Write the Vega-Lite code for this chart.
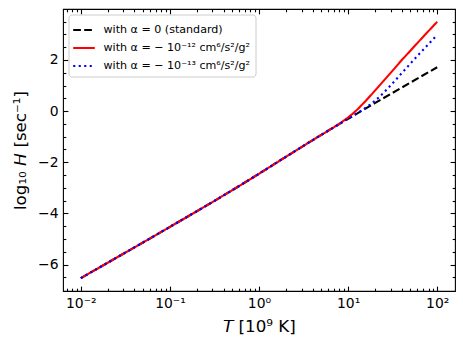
{
  "$schema": "https://vega.github.io/schema/vega-lite/v6.json",
  "width": 392,
  "height": 282,
  "autosize": {"type": "none"},
  "padding": {"left": 63, "top": 9, "right": 8, "bottom": 57},
  "background": "white",
  "config": {
    "font": "DejaVu Sans",
    "view": {"stroke": "black", "strokeWidth": 1.1},
    "axis": {
      "grid": false,
      "domain": false,
      "tickColor": "black",
      "tickWidth": 1.1,
      "labelColor": "black",
      "labelFont": "DejaVu Sans",
      "labelFontSize": 13.9,
      "titleFont": "DejaVu Sans",
      "titleFontSize": 16.7,
      "titleFontWeight": "normal",
      "titleColor": "black",
      "labelOverlap": false,
      "labelFlush": false
    }
  },
  "data": {
    "values": [
      {"T": 0.01, "H": -6.53, "s": "a0"},
      {"T": 0.017783, "H": -6.03, "s": "a0"},
      {"T": 0.031623, "H": -5.53, "s": "a0"},
      {"T": 0.056234, "H": -5.03, "s": "a0"},
      {"T": 0.1, "H": -4.525, "s": "a0"},
      {"T": 0.177828, "H": -4.02, "s": "a0"},
      {"T": 0.316228, "H": -3.51, "s": "a0"},
      {"T": 0.562341, "H": -2.985, "s": "a0"},
      {"T": 1, "H": -2.45, "s": "a0"},
      {"T": 1.778279, "H": -1.9, "s": "a0"},
      {"T": 3.162278, "H": -1.355, "s": "a0"},
      {"T": 3.981072, "H": -1.14, "s": "a0"},
      {"T": 5.011872, "H": -0.928, "s": "a0"},
      {"T": 6.309573, "H": -0.717, "s": "a0"},
      {"T": 7.943282, "H": -0.508, "s": "a0"},
      {"T": 10, "H": -0.301, "s": "a0"},
      {"T": 12.58925, "H": -0.096, "s": "a0"},
      {"T": 15.84893, "H": 0.108, "s": "a0"},
      {"T": 19.95262, "H": 0.311, "s": "a0"},
      {"T": 25.11886, "H": 0.513, "s": "a0"},
      {"T": 31.62278, "H": 0.714, "s": "a0"},
      {"T": 39.81072, "H": 0.915, "s": "a0"},
      {"T": 50.11872, "H": 1.115, "s": "a0"},
      {"T": 63.09573, "H": 1.315, "s": "a0"},
      {"T": 79.43282, "H": 1.515, "s": "a0"},
      {"T": 100, "H": 1.715, "s": "a0"},

      {"T": 0.01, "H": -6.53, "s": "a12"},
      {"T": 0.017783, "H": -6.03, "s": "a12"},
      {"T": 0.031623, "H": -5.53, "s": "a12"},
      {"T": 0.056234, "H": -5.03, "s": "a12"},
      {"T": 0.1, "H": -4.525, "s": "a12"},
      {"T": 0.177828, "H": -4.02, "s": "a12"},
      {"T": 0.316228, "H": -3.51, "s": "a12"},
      {"T": 0.562341, "H": -2.985, "s": "a12"},
      {"T": 1, "H": -2.45, "s": "a12"},
      {"T": 1.778279, "H": -1.9, "s": "a12"},
      {"T": 3.162278, "H": -1.355, "s": "a12"},
      {"T": 3.981072, "H": -1.14, "s": "a12"},
      {"T": 5.011872, "H": -0.928, "s": "a12"},
      {"T": 6.309573, "H": -0.717, "s": "a12"},
      {"T": 7.079458, "H": -0.607, "s": "a12"},
      {"T": 7.943282, "H": -0.496, "s": "a12"},
      {"T": 8.912509, "H": -0.376, "s": "a12"},
      {"T": 10, "H": -0.249, "s": "a12"},
      {"T": 11.22018, "H": -0.108, "s": "a12"},
      {"T": 12.58925, "H": 0.049, "s": "a12"},
      {"T": 14.12538, "H": 0.226, "s": "a12"},
      {"T": 15.84893, "H": 0.408, "s": "a12"},
      {"T": 17.78279, "H": 0.6, "s": "a12"},
      {"T": 19.95262, "H": 0.796, "s": "a12"},
      {"T": 22.38721, "H": 0.992, "s": "a12"},
      {"T": 25.11886, "H": 1.188, "s": "a12"},
      {"T": 31.62278, "H": 1.584, "s": "a12"},
      {"T": 39.81072, "H": 1.985, "s": "a12"},
      {"T": 50.11872, "H": 2.365, "s": "a12"},
      {"T": 63.09573, "H": 2.745, "s": "a12"},
      {"T": 79.43282, "H": 3.12, "s": "a12"},
      {"T": 100, "H": 3.49, "s": "a12"},

      {"T": 0.01, "H": -6.53, "s": "a13"},
      {"T": 0.017783, "H": -6.03, "s": "a13"},
      {"T": 0.031623, "H": -5.53, "s": "a13"},
      {"T": 0.056234, "H": -5.03, "s": "a13"},
      {"T": 0.1, "H": -4.525, "s": "a13"},
      {"T": 0.177828, "H": -4.02, "s": "a13"},
      {"T": 0.316228, "H": -3.51, "s": "a13"},
      {"T": 0.562341, "H": -2.985, "s": "a13"},
      {"T": 1, "H": -2.45, "s": "a13"},
      {"T": 1.778279, "H": -1.9, "s": "a13"},
      {"T": 3.162278, "H": -1.355, "s": "a13"},
      {"T": 3.981072, "H": -1.14, "s": "a13"},
      {"T": 5.011872, "H": -0.928, "s": "a13"},
      {"T": 6.309573, "H": -0.717, "s": "a13"},
      {"T": 7.943282, "H": -0.508, "s": "a13"},
      {"T": 10, "H": -0.301, "s": "a13"},
      {"T": 11.22018, "H": -0.195, "s": "a13"},
      {"T": 12.58925, "H": -0.088, "s": "a13"},
      {"T": 14.12538, "H": 0.02, "s": "a13"},
      {"T": 15.84893, "H": 0.138, "s": "a13"},
      {"T": 17.78279, "H": 0.26, "s": "a13"},
      {"T": 19.95262, "H": 0.399, "s": "a13"},
      {"T": 22.38721, "H": 0.552, "s": "a13"},
      {"T": 25.11886, "H": 0.723, "s": "a13"},
      {"T": 28.18383, "H": 0.904, "s": "a13"},
      {"T": 31.62278, "H": 1.089, "s": "a13"},
      {"T": 39.81072, "H": 1.475, "s": "a13"},
      {"T": 50.11872, "H": 1.86, "s": "a13"},
      {"T": 63.09573, "H": 2.24, "s": "a13"},
      {"T": 79.43282, "H": 2.61, "s": "a13"},
      {"T": 100, "H": 2.98, "s": "a13"}
    ]
  },
  "layer": [
    {
      "mark": {"type": "line", "strokeWidth": 2.1, "clip": true},
      "encoding": {
        "x": {
          "field": "T", "type": "quantitative",
          "scale": {"type": "log", "domain": [0.00631, 158.5], "nice": false},
          "axis": {
            "orient": "bottom",
            "values": [0.007,0.008,0.009,0.01,0.02,0.03,0.04,0.05,0.06,0.07,0.08,0.09,0.1,0.2,0.3,0.4,0.5,0.6,0.7,0.8,0.9,1,2,3,4,5,6,7,8,9,10,20,30,40,50,60,70,80,90,100],
            "tickSize": {"condition": {"test": "indexof([0.01,0.1,1,10,100], datum.value) >= 0", "value": -4.9}, "value": -2.8},
            "labelExpr": "datum.value == 0.01 ? '10⁻²' : datum.value == 0.1 ? '10⁻¹' : datum.value == 1 ? '10⁰' : datum.value == 10 ? '10¹' : datum.value == 100 ? '10²' : ''",
            "labelPadding": 9.9,
            "title": "𝘛 [10⁹ K]",
            "titlePadding": 6
          }
        },
        "y": {
          "field": "H", "type": "quantitative",
          "scale": {"domain": [-7.031, 3.991], "nice": false, "zero": false},
          "axis": {
            "orient": "left",
            "values": [-6.5,-6,-5.5,-5,-4.5,-4,-3.5,-3,-2.5,-2,-1.5,-1,-0.5,0,0.5,1,1.5,2,2.5,3,3.5],
            "tickSize": {"condition": {"test": "datum.value % 2 == 0", "value": -4.9}, "value": -2.8},
            "labelExpr": "datum.value % 2 == 0 ? format(datum.value, 'd') : ''",
            "labelPadding": 9.8,
            "title": "log₁₀ 𝘏 [sec⁻¹]",
            "titlePadding": 8
          }
        },
        "color": {
          "field": "s", "type": "nominal",
          "scale": {"domain": ["a0", "a12", "a13"], "range": ["#000000", "#ff0000", "#0000ff"]},
          "legend": {
            "title": null, "orient": "none", "legendX": 5.5, "legendY": 5.5,
            "symbolType": "M-1.2,0H1.2", "symbolSize": 324, "symbolStrokeWidth": 2.1,
            "labelFontSize": 11.1, "labelFont": "DejaVu Sans", "labelColor": "black", "labelOffset": 9, "labelLimit": 400,
            "padding": 5, "rowPadding": 2, "strokeColor": "#cccccc", "fillColor": "rgba(255,255,255,0.8)", "cornerRadius": 3,
            "labelExpr": "datum.value == 'a0' ? 'with α = 0 (standard)' : datum.value == 'a12' ? 'with α = − 10⁻¹² cm⁶/s²/g²' : 'with α = − 10⁻¹³ cm⁶/s²/g²'"
          }
        },
        "strokeDash": {
          "field": "s", "type": "nominal",
          "scale": {"domain": ["a0", "a12", "a13"], "range": [[7.7, 3.3], [1, 0], [2.1, 3.4]]},
          "legend": {
            "title": null, "orient": "none", "legendX": 5.5, "legendY": 5.5,
            "symbolType": "M-1.2,0H1.2", "symbolSize": 324, "symbolStrokeWidth": 2.1,
            "labelFontSize": 11.1, "labelFont": "DejaVu Sans", "labelColor": "black", "labelOffset": 9, "labelLimit": 400,
            "padding": 5, "rowPadding": 2, "strokeColor": "#cccccc", "fillColor": "rgba(255,255,255,0.8)", "cornerRadius": 3,
            "labelExpr": "datum.value == 'a0' ? 'with α = 0 (standard)' : datum.value == 'a12' ? 'with α = − 10⁻¹² cm⁶/s²/g²' : 'with α = − 10⁻¹³ cm⁶/s²/g²'"
          }
        }
      }
    },
    {
      "mark": {"type": "point", "opacity": 0},
      "encoding": {
        "x": {
          "field": "T", "type": "quantitative",
          "axis": {
            "orient": "top",
            "values": [0.007,0.008,0.009,0.01,0.02,0.03,0.04,0.05,0.06,0.07,0.08,0.09,0.1,0.2,0.3,0.4,0.5,0.6,0.7,0.8,0.9,1,2,3,4,5,6,7,8,9,10,20,30,40,50,60,70,80,90,100],
            "tickSize": {"condition": {"test": "indexof([0.01,0.1,1,10,100], datum.value) >= 0", "value": -4.9}, "value": -2.8},
            "labels": false,
            "title": null
          }
        },
        "y": {
          "field": "H", "type": "quantitative",
          "axis": {
            "orient": "right",
            "values": [-6.5,-6,-5.5,-5,-4.5,-4,-3.5,-3,-2.5,-2,-1.5,-1,-0.5,0,0.5,1,1.5,2,2.5,3,3.5],
            "tickSize": {"condition": {"test": "datum.value % 2 == 0", "value": -4.9}, "value": -2.8},
            "labels": false,
            "title": null
          }
        }
      }
    }
  ],
  "resolve": {"axis": {"x": "independent", "y": "independent"}}
}
